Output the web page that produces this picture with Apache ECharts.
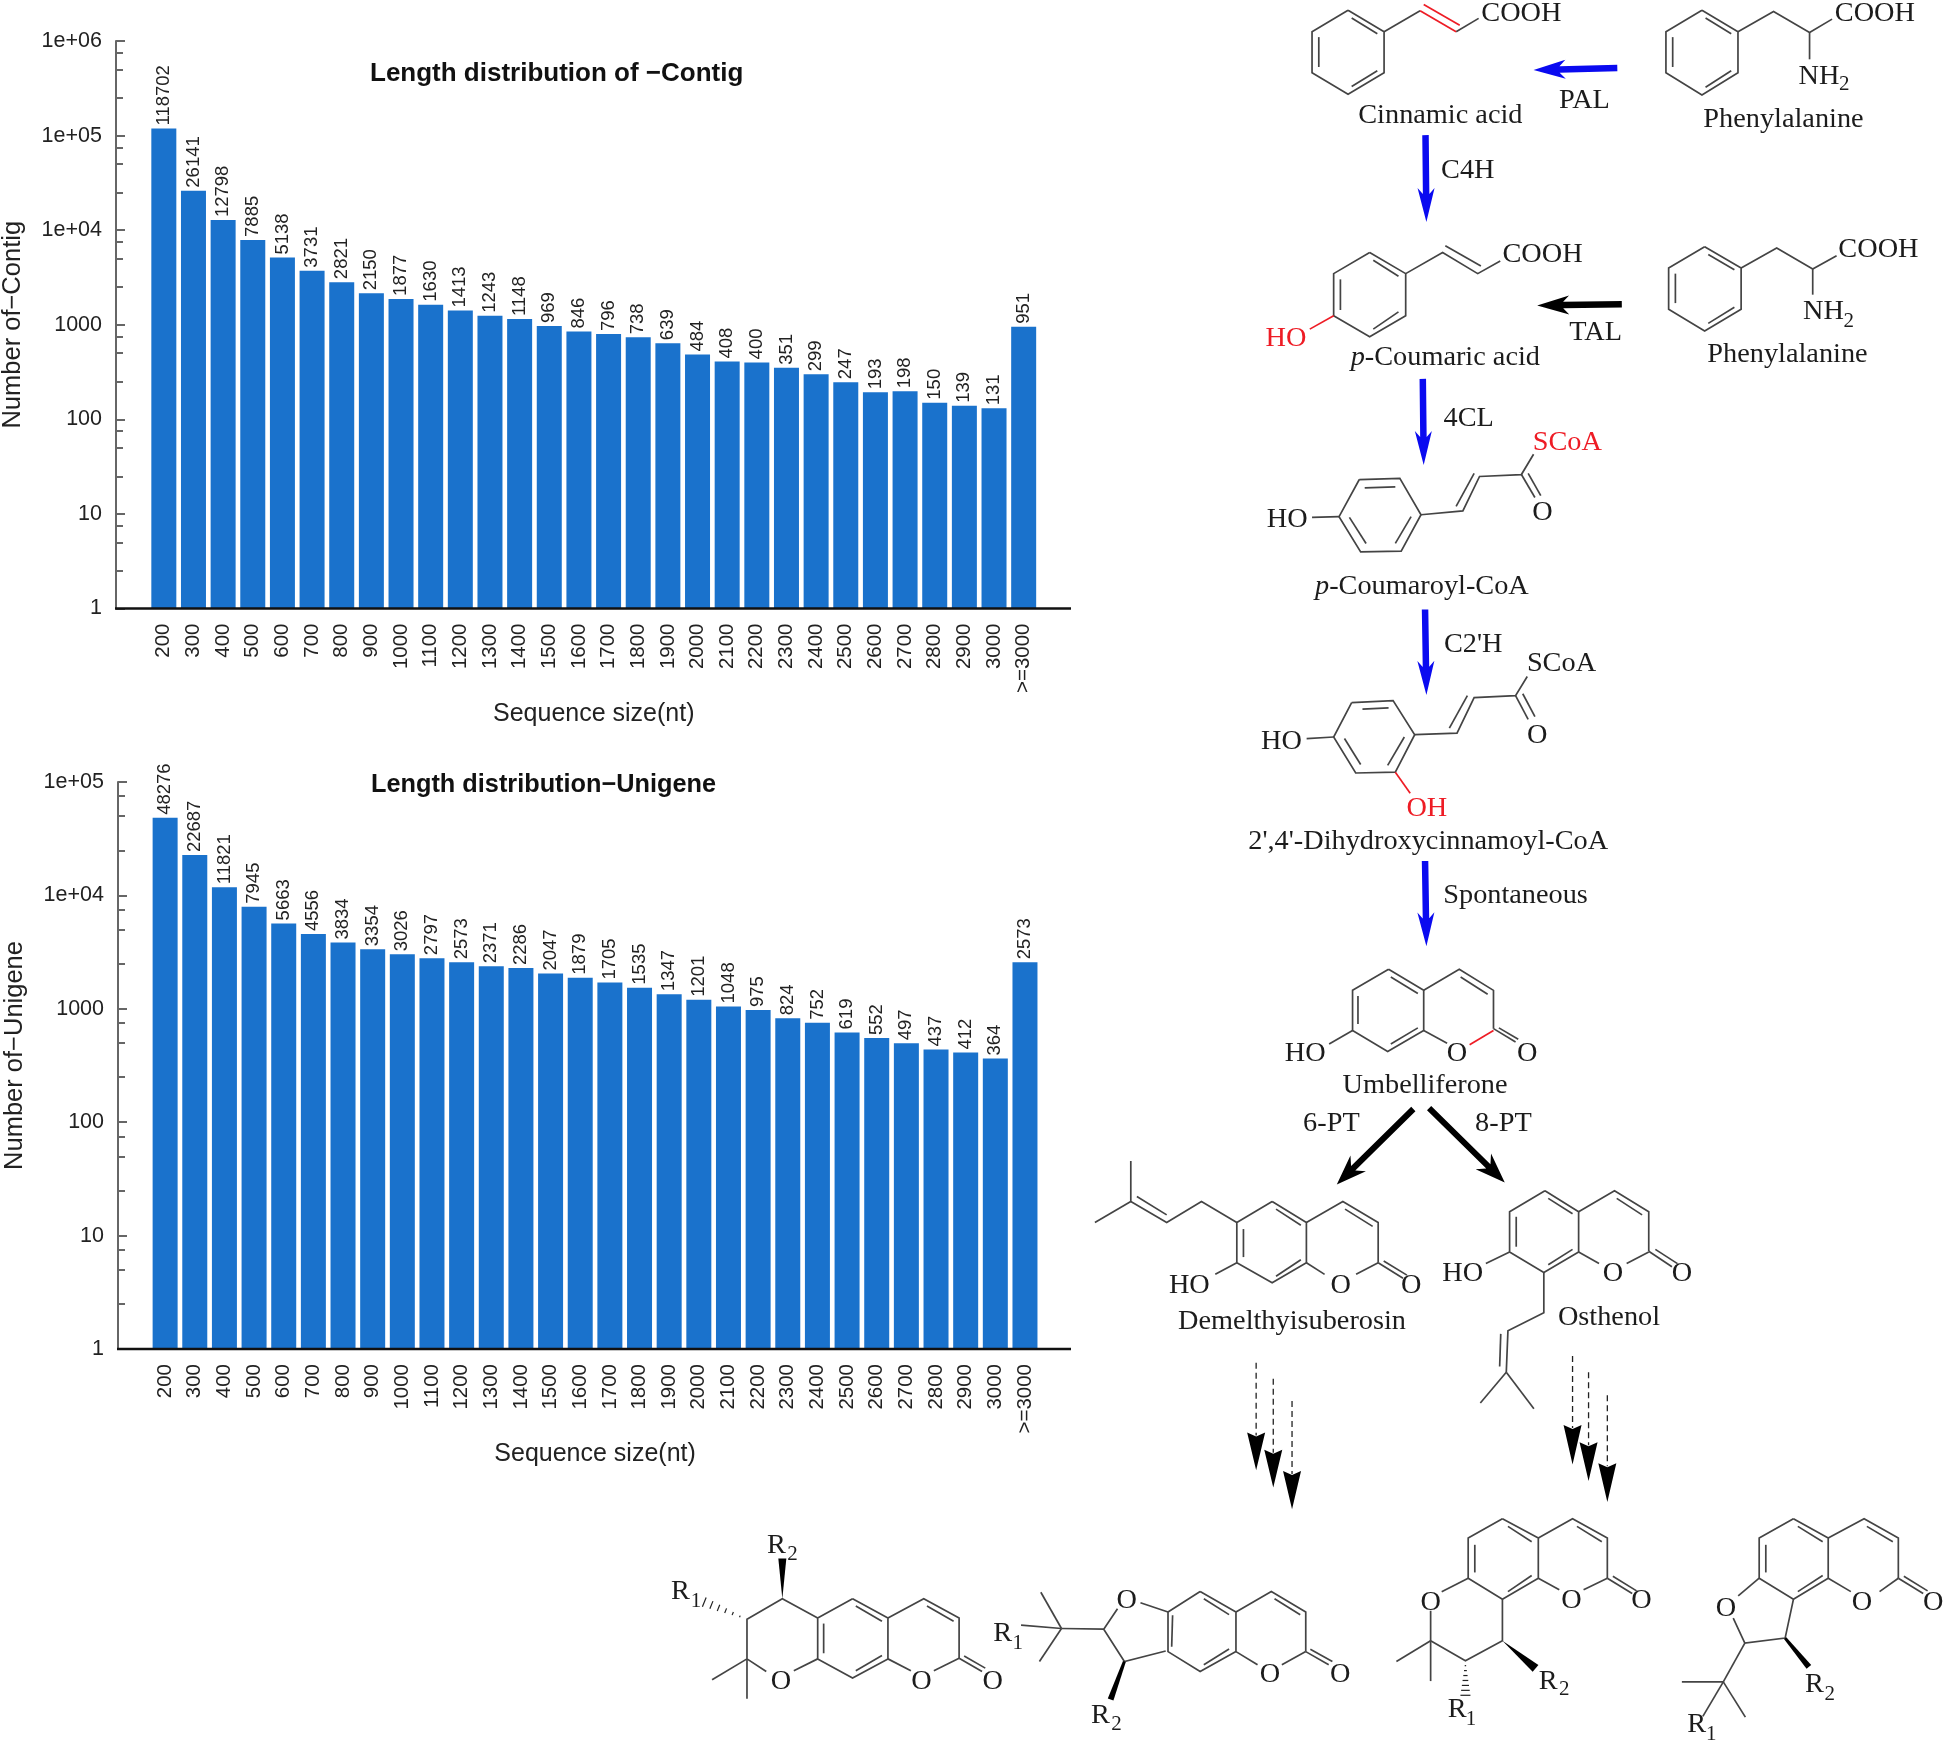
<!DOCTYPE html>
<html><head><meta charset="utf-8">
<style>html,body{margin:0;padding:0;background:#fff}#c{width:1946px;height:1742px}</style>
<script src="https://cdn.jsdelivr.net/npm/echarts@6/dist/echarts.min.js"></script>
</head><body><div id="c"></div>
<script>
const categories = ['200','300','400','500','600','700','800','900','1000','1100','1200','1300','1400','1500','1600','1700','1800','1900','2000','2100','2200','2300','2400','2500','2600','2700','2800','2900','3000','>=3000'];
const contigValues = [118702,26141,12798,7885,5138,3731,2821,2150,1877,1630,1413,1243,1148,969,846,796,738,639,484,408,400,351,299,247,193,198,150,139,131,951];
const unigeneValues = [48276,22687,11821,7945,5663,4556,3834,3354,3026,2797,2573,2371,2286,2047,1879,1705,1535,1347,1201,1048,975,824,752,619,552,497,437,412,364,2573];
const contigTitle = 'Length distribution of \u2212Contig';
const unigeneTitle = 'Length distribution\u2212Unigene';
const contigYName = 'Number of\u2212Contig';
const unigeneYName = 'Number of\u2212Unigene';
const xName = 'Sequence size(nt)';
const minorContig = [2.5,5,7.5,25,50,75,250,500,750,2500,5000,7500,25000,50000,75000,250000,500000,750000];
const minorUnigene = [2.5,5,7.5,25,50,75,250,500,750,2500,5000,7500,25000,50000,75000];

const SANS = '"Liberation Sans", Arial, sans-serif';
const SERIF = '"Liberation Serif", "Times New Roman", serif';
const BLUE = '#1a72cc';

function fmtTick(v){
  const e = Math.round(Math.log10(v));
  return e >= 4 ? '1e+0' + e : String(Math.round(v));
}
const grids = [
  {left:149, width:889.5, top:41, height:567.5, axisLeft:116, axisRight:1071},
  {left:150.3, width:889.5, top:782, height:567, axisLeft:118, axisRight:1071}
];
function mainY(g, gi, max, name, namePad){
  return {type:'log', logBase:10, min:1, max:max, gridIndex:gi, offset:g.left-g.axisLeft, position:'left',
    name:name, nameLocation:'middle', nameGap:90,
    nameTextStyle:{fontFamily:SANS,fontSize:25.5,color:'#222',padding:namePad},
    axisLine:{show:true,onZero:false,lineStyle:{color:'#666',width:2}},
    axisTick:{show:true,inside:true,length:9,lineStyle:{color:'#666',width:2}},
    axisLabel:{formatter:fmtTick,fontFamily:SANS,fontSize:21.5,color:'#222',margin:14,padding:[3,0,0,0]},
    splitLine:{show:false}, minorTick:{show:false}, minorSplitLine:{show:false}};
}
function minorY(g, gi, max, vals){
  return {type:'log', logBase:10, min:1, max:max, gridIndex:gi, offset:g.left-g.axisLeft, position:'left',
    axisLine:{show:false},
    axisTick:{show:true,inside:true,length:7,customValues:vals,lineStyle:{color:'#666',width:2}},
    axisLabel:{show:false}, splitLine:{show:false}};
}
function xAxisFor(gi){
  return {type:'category', data:categories, gridIndex:gi, name:xName, nameLocation:'middle', nameGap:93,
    nameTextStyle:{fontFamily:SANS,fontSize:25,color:'#222'},
    axisLine:{show:false}, axisTick:{show:false}, splitLine:{show:false},
    axisLabel:{rotate:90,interval:0,fontFamily:SANS,fontSize:20.5,color:'#222',margin:15,padding:[4,0,0,0]}};
}
function barSeries(vals, xi, yi){
  return {type:'bar', data:vals, xAxisIndex:xi, yAxisIndex:yi, barWidth:25, itemStyle:{color:BLUE},
    label:{show:true,position:'top',rotate:90,align:'left',verticalAlign:'middle',distance:5,offset:[-2,0],
      fontFamily:SANS,fontSize:18.5,color:'#222'}, silent:true};
}

/* ---------- Pathway drawing: coordinates are taken in zoomed crops Z3..Z6 ---------- */
const Z3 = {ox:1240,oy:0,sx:2.221,sy:2.613};
const Z4 = {ox:1240,oy:600,sx:2.221,sy:2.613};
const Z5 = {ox:1080,oy:1140,sx:1.811,sy:2.605};
const Z5b = {ox:1080,oy:1142.5,sx:1.811,sy:2.605};
const Z6 = {ox:640,oy:1480,sx:2.178,sy:3.03};
const fx = (z,x)=>x/z.sx+z.ox, fy=(z,y)=>y/z.sy+z.oy;
const gfx = [];
const BOND = '#444', INK = '#1c1c1c', RED = '#ee1c25';
function chain(z, pts, color, w){
  const p=[]; for(let i=0;i<pts.length;i+=2)p.push([fx(z,pts[i]),fy(z,pts[i+1])]);
  gfx.push({type:'polyline',silent:true,shape:{points:p},style:{stroke:color||BOND,lineWidth:w||1.7,fill:null}});
}
function bonds(z, list, color){ list.forEach(b=>chain(z,b,color)); }
function lab(z, t, x, y, o){
  o=o||{};
  const st={x:fx(z,x),y:fy(z,y)+1.5,align:'center',verticalAlign:'middle',fill:o.c||INK,
    font:(o.s||28.3)+'px '+SERIF,text:t};
  if(o.rich){st.rich={i:{fontStyle:'italic',fontFamily:SERIF,fontSize:28.3,fill:INK},n:{fontFamily:SERIF,fontSize:28.3,fill:INK}};}
  gfx.push({type:'text',silent:true,style:st});
}
function sub(z,t,s,x1,y1,x2,y2){ lab(z,t,x1,y1); lab(z,s,x2,y2,{s:21}); }
function arrow(z,x1,y1,x2,y2,color,sw,hl,hw,notch){
  const a=fx(z,x1),b=fy(z,y1),c=fx(z,x2),d=fy(z,y2);
  const L=Math.hypot(c-a,d-b),ux=(c-a)/L,uy=(d-b)/L,nx=-uy,ny=ux;
  const P=(t,s)=>[a+ux*t+nx*s,b+uy*t+ny*s];
  gfx.push({type:'polygon',silent:true,shape:{points:[P(0,sw/2),P(L-hl+notch,sw/2),P(L-hl,hw/2),P(L,0),P(L-hl,-hw/2),P(L-hl+notch,-sw/2),P(0,-sw/2)]},style:{fill:color}});
}
function dashArrow(z,x,y1,y2,tip){
  const X=fx(z,x),Y1=fy(z,y1),Y2=fy(z,y2);
  gfx.push({type:'line',silent:true,shape:{x1:X,y1:Y1,x2:X,y2:Y2},style:{stroke:'#222',lineWidth:1.3,lineDash:[6,4]}});
  const t=fy(z,tip);
  gfx.push({type:'polygon',silent:true,shape:{points:[[X-9,Y2-3],[X,Y2+1],[X+9,Y2-3],[X,t]]},style:{fill:'#000'}});
}
function wedge(z,x1,y1,x2,y2,w,w0){
  const a=fx(z,x1),b=fy(z,y1),c=fx(z,x2),d=fy(z,y2);
  const L=Math.hypot(c-a,d-b),nx=-(d-b)/L,ny=(c-a)/L,h=(w0||0)/2;
  gfx.push({type:'polygon',silent:true,shape:{points:[[a+nx*h,b+ny*h],[c+nx*w/2,d+ny*w/2],[c-nx*w/2,d-ny*w/2],[a-nx*h,b-ny*h]]},style:{fill:'#000'}});
}
function hash(z,x1,y1,x2,y2,w,n){
  const a=fx(z,x1),b=fy(z,y1),c=fx(z,x2),d=fy(z,y2);
  const L=Math.hypot(c-a,d-b),nx=-(d-b)/L,ny=(c-a)/L;
  for(let i=1;i<=n;i++){const t=i/n,h=w*t/2,px=a+(c-a)*t,py=b+(d-b)*t;
    gfx.push({type:'line',silent:true,shape:{x1:px+nx*h,y1:py+ny*h,x2:px-nx*h,y2:py-ny*h},style:{stroke:'#222',lineWidth:1.2}});}
}
const ABLUE='#0a0af0';

/* Cinnamic acid */
chain(Z3,[240,27,320,83,320,190,240,246,160,190,160,83,240,27]);
bonds(Z3,[[175,97,175,175],[248,47,305,88],[248,226,305,185],[320,83,400,28],[480,83,530,48]]);
bonds(Z3,[[400,28,480,83],[408,12,488,66]],RED);
lab(Z3,'COOH',625,32); lab(Z3,'Cinnamic acid',445,298);
/* Phenylalanine 1 */
chain(Z3,[1026,27,1106,83,1106,190,1026,248,946,190,946,83,1026,27]);
bonds(Z3,[[961,97,961,175],[1034,47,1091,88],[1034,228,1091,185],[1106,83,1185,30,1265,85,1315,50],[1265,85,1265,155]]);
lab(Z3,'COOH',1410,32); sub(Z3,'NH','2',1286,195,1342,218); lab(Z3,'Phenylalanine',1207,308);
arrow(Z3,838,178,652,183,ABLUE,6.5,32,19,6); lab(Z3,'PAL',765,260);
arrow(Z3,412,353,414,580,ABLUE,6.5,34,17,6); lab(Z3,'C4H',506,443);
/* p-Coumaric acid */
chain(Z3,[288,660,368,715,368,825,288,880,208,825,208,715,288,660]);
bonds(Z3,[[223,730,223,810],[296,680,352,722],[296,860,352,815],[368,715,450,660,528,715,578,682],[456,642,535,695]]);
bonds(Z3,[[208,825,155,860]],RED);
lab(Z3,'COOH',672,662); lab(Z3,'HO',102,880,{c:RED});
lab(Z3,'{i|p}{n|-Coumaric acid}',456,930,{rich:1});
arrow(Z3,848,795,660,798,'#000',6.5,32,19,6); lab(Z3,'TAL',790,865);
/* Phenylalanine 2 */
chain(Z3,[1032,645,1113,700,1113,808,1032,865,952,808,952,700,1032,645]);
bonds(Z3,[[967,715,967,792],[1040,665,1098,705],[1040,845,1098,803],[1113,700,1192,648,1272,703,1325,668],[1272,703,1272,770]]);
lab(Z3,'COOH',1418,648); sub(Z3,'NH','2',1296,810,1352,835); lab(Z3,'Phenylalanine',1216,922);
arrow(Z3,406,990,408,1215,ABLUE,6.5,34,17,6); lab(Z3,'4CL',508,1090);
/* p-Coumaroyl-CoA */
chain(Z3,[265,1253,355,1250,402,1345,358,1440,268,1442,220,1350,265,1253]);
bonds(Z3,[[277,1275,345,1272],[380,1350,345,1420],[243,1352,280,1420],[402,1345,495,1335,532,1245,625,1240,652,1187],[480,1323,520,1237],[625,1240,655,1300],[640,1237,668,1295],[160,1352,220,1350]]);
lab(Z3,'SCoA',727,1152,{c:RED}); lab(Z3,'O',672,1335); lab(Z3,'HO',105,1355);
lab(Z3,'{i|p}{n|-Coumaroyl-CoA}',404,1528,{rich:1});
/* 2',4'-Dihydroxycinnamoyl-CoA */
arrow(Z4,411,25,414,248,ABLUE,6.5,34,17,6); lab(Z4,"C2'H",518,113);
chain(Z4,[248,268,340,263,388,352,345,450,257,452,208,358,248,268]);
bonds(Z4,[[272,285,330,282],[365,358,328,432],[232,362,268,430],[388,352,482,348,520,255,612,250,638,200],[465,335,505,250],[612,250,640,312],[628,245,655,305],[148,362,208,358]]);
bonds(Z4,[[345,450,378,505]],RED);
lab(Z4,'SCoA',714,162); lab(Z4,'O',660,350); lab(Z4,'HO',92,365); lab(Z4,'OH',415,542,{c:RED});
lab(Z4,"2',4'-Dihydroxycinnamoyl-CoA",418,628);
arrow(Z4,411,682,414,905,ABLUE,6.5,34,17,6); lab(Z4,'Spontaneous',612,768);
/* Umbelliferone */
chain(Z4,[330,965,408,1020,408,1125,328,1180,250,1125,250,1020,330,965]);
bonds(Z4,[[262,1035,262,1108],[335,985,395,1028],[335,1160,395,1118],[408,1020,487,965,563,1020,563,1120],[490,985,550,1030],[408,1125,460,1158],[563,1120,612,1155],[575,1118,618,1148],[250,1125,198,1160]]);
bonds(Z4,[[510,1162,563,1125]],RED);
lab(Z4,'O',482,1180); lab(Z4,'O',638,1180); lab(Z4,'HO',145,1182); lab(Z4,'Umbelliferone',411,1265);
lab(Z4,'6-PT',203,1365); lab(Z4,'8-PT',585,1365);
arrow(Z4,385,1330,215,1527,'#000',6,30,22,7); arrow(Z4,420,1328,588,1522,'#000',6,30,22,7);
/* Demelthyisuberosin */
chain(Z5,[348,160,410,215,410,320,348,372,284,320,284,215,348,160]);
bonds(Z5,[[296,232,296,305],[355,180,400,222],[355,355,400,312],[410,215,476,160,540,215,540,320],[480,180,530,225],[410,320,443,350],[500,350,540,320],[540,320,585,360],[550,315,592,352],[284,320,245,350],[284,215,220,160,157,215,92,160,92,55],[92,160,27,215],[157,195,103,147]]);
lab(Z5,'O',472,375); lab(Z5,'O',600,375); lab(Z5,'HO',198,375); lab(Z5,'Demelthyisuberosin',384,470);
/* Osthenol */
chain(Z5,[842,132,903,187,903,292,840,345,778,292,778,187,842,132]);
bonds(Z5,[[790,200,790,278],[848,152,892,192],[848,325,892,285],[903,187,968,132,1030,187,1030,290],[972,152,1018,195],[903,292,940,322],[990,322,1030,292],[1030,290,1072,330],[1042,285,1082,322],[778,292,735,322],[840,345,840,450,775,497,772,605],[762,505,760,590],[772,605,725,685],[772,605,822,700]]);
lab(Z5,'O',965,345); lab(Z5,'O',1090,345); lab(Z5,'HO',693,345); lab(Z5,'Osthenol',958,458);
/* dashed arrows */
dashArrow(Z5,319,580,770,860); dashArrow(Z5,350,622,815,905); dashArrow(Z5,384,680,870,962);
dashArrow(Z5,892,563,750,845); dashArrow(Z5,921,605,795,888); dashArrow(Z5,955,665,850,943);
/* product 3 */
chain(Z5b,[765,980,830,1030,830,1135,765,1190,703,1135,703,1030,765,980]);
bonds(Z5b,[[715,1048,715,1120],[775,1000,818,1040],[775,1170,818,1128],[830,1030,892,980,955,1030,955,1135],[900,1000,945,1040],[830,1135,868,1165],[912,1165,955,1135],[955,1135,1000,1175],[965,1130,1008,1168],[703,1135,655,1170],[635,1220,635,1298,698,1350,765,1298,765,1190],[635,1298,573,1352],[635,1298,635,1403]]);
wedge(Z5b,765,1298,825,1370,9); hash(Z5b,698,1350,698,1440,10,7);
lab(Z5b,'O',890,1190); lab(Z5b,'O',1017,1190); lab(Z5b,'O',635,1195);
sub(Z5,'R','2',848,1408,877,1428); sub(Z5,'R','1',683,1480,708,1505);
/* product 4 */
chain(Z5b,[1292,980,1355,1030,1355,1135,1292,1190,1230,1135,1230,1030,1292,980]);
bonds(Z5b,[[1242,1048,1242,1120],[1300,1000,1345,1040],[1300,1170,1345,1128],[1355,1030,1420,980,1482,1030,1482,1135],[1425,1000,1472,1040],[1355,1135,1396,1170],[1448,1170,1482,1135],[1482,1135,1527,1175],[1492,1130,1535,1168],[1230,1135,1192,1181],[1183,1239,1204,1304,1277,1291,1292,1190],[1204,1304,1165,1405],[1165,1405,1090,1405],[1165,1405,1205,1497],[1165,1405,1128,1495]]);
wedge(Z5b,1277,1291,1320,1366,6,3);
lab(Z5b,'O',1416,1195); lab(Z5b,'O',1545,1195); lab(Z5b,'O',1170,1210);
sub(Z5,'R','2',1330,1415,1358,1440); sub(Z5,'R','1',1117,1520,1143,1545);
/* product 1 */
chain(Z6,[463,360,540,418,540,542,463,600,387,542,387,418,463,360]);
bonds(Z6,[[400,435,400,525],[470,382,527,428],[470,578,527,532],[540,418,618,360,695,418,695,540],[625,382,683,428],[540,542,590,578],[640,578,695,540],[695,540,745,580],[706,533,752,570],[387,542,335,578],[275,580,233,542,233,422,310,360,387,418],[233,542,157,605],[233,542,233,663]]);
wedge(Z6,310,360,310,238,8); hash(Z6,233,422,140,370,10,6);
lab(Z6,'O',613,605); lab(Z6,'O',768,605); lab(Z6,'O',307,605);
sub(Z6,'R','2',297,195,332,222); sub(Z6,'R','1',88,335,122,365);
/* product 2 */
chain(Z6,[1220,338,1298,400,1298,520,1220,580,1150,520,1150,400,1220,338]);
bonds(Z6,[[1160,410,1158,505],[1228,360,1283,408],[1228,560,1283,512],[1298,400,1375,338,1450,400,1450,520],[1382,360,1438,408],[1298,520,1345,560],[1398,560,1450,520],[1450,520,1500,560],[1460,513,1508,550],[1150,400,1090,372],[1040,390,1010,452,1055,550,1145,518],[1010,452,918,450],[918,450,830,440],[918,450,873,340],[918,450,870,550]]);
wedge(Z6,1055,550,1025,665,6,3);
lab(Z6,'O',1372,585); lab(Z6,'O',1525,585); lab(Z6,'O',1060,362);
sub(Z6,'R','1',790,462,823,490); sub(Z6,'R','2',1003,708,1038,735);

/* x-axis baselines */
grids.forEach(g=>{
  const y=g.top+g.height;
  gfx.push({type:'line',silent:true,z:10,shape:{x1:g.axisLeft-1,y1:y,x2:g.axisRight,y2:y},style:{stroke:'#111',lineWidth:2.5}});
});

const chart = echarts.init(document.getElementById('c'),null,{renderer:'canvas'});
chart.setOption({
  animation:false, backgroundColor:'#fff',
  title:[
    {text:contigTitle,left:370,top:61,padding:0,textStyle:{fontFamily:SANS,fontWeight:'bold',fontSize:26,color:'#111'}},
    {text:unigeneTitle,left:371,top:773,padding:0,textStyle:{fontFamily:SANS,fontWeight:'bold',fontSize:25.3,color:'#111'}}
  ],
  grid:grids.map(g=>({left:g.left,top:g.top,width:g.width,height:g.height,containLabel:false,outerBoundsMode:'none'})),
  xAxis:[xAxisFor(0),xAxisFor(1)],
  yAxis:[
    mainY(grids[0],0,1e6,contigYName,[0,0,0,0]),
    minorY(grids[0],0,1e6,minorContig),
    mainY(grids[1],1,1e5,unigeneYName,[0,0,0,20]),
    minorY(grids[1],1,1e5,minorUnigene)
  ],
  series:[barSeries(contigValues,0,0),barSeries(unigeneValues,1,2)],
  graphic:{elements:gfx}
});
</script></body></html>
